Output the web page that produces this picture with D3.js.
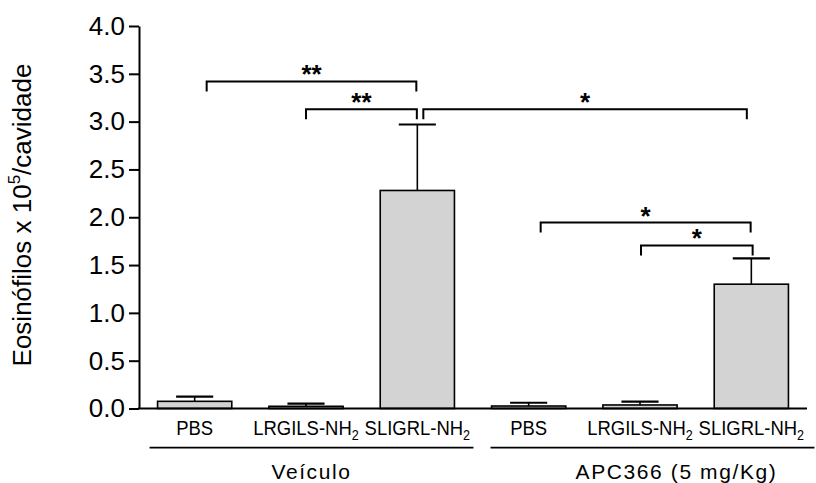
<!DOCTYPE html>
<html>
<head>
<meta charset="utf-8">
<script src="https://cdn.jsdelivr.net/npm/d3@7"></script>
<style>
  html, body { margin: 0; padding: 0; background: #fff; }
  svg { display: block; font-family: "Liberation Sans", Arial, sans-serif; }
</style>
</head>
<body>
<svg id="chart" width="816" height="483"></svg>
<script>
// Categories (treatment within group)
const categories = ["veh_pbs", "veh_lrg", "veh_sli", "apc_pbs", "apc_lrg", "apc_sli"];
const categoryLabels = [
  ["PBS", null],
  ["LRGILS-NH", "2"],
  ["SLIGRL-NH", "2"],
  ["PBS", null],
  ["LRGILS-NH", "2"],
  ["SLIGRL-NH", "2"]
];
// Eosinophil counts (x 10^5 / cavity): mean and mean + SEM
const means = [0.075, 0.023, 2.28, 0.026, 0.037, 1.30];
const upper = [0.124, 0.050, 2.97, 0.060, 0.072, 1.57];

// Groups spanning categories
const groupNames = ["Veículo", "APC366 (5 mg/Kg)"];
const groupMembers = [["veh_pbs", "veh_sli"], ["apc_pbs", "apc_sli"]];

// Y axis ticks
const yTicks = [0, 0.5, 1.0, 1.5, 2.0, 2.5, 3.0, 3.5, 4.0];

// Significance comparisons: pair of categories, bracket level (y units), label
const compFrom = ["veh_pbs", "veh_lrg", "veh_sli", "apc_pbs", "apc_lrg"];
const compTo   = ["veh_sli", "veh_sli", "apc_sli", "apc_sli", "apc_sli"];
const compLevel = [3.42, 3.13, 3.13, 1.945, 1.705];
const compLabel = ["**", "**", "*", "*", "*"];

const svg = d3.select("#chart");
const plotLeft = 139, plotRight = 807, plotTop = 26, plotBottom = 408.5;

const x = d3.scaleBand().domain(categories).range([plotLeft, plotRight])
  .paddingInner(1 / 3).paddingOuter(1 / 6);
const y = d3.scaleLinear().domain([0, 4]).range([plotBottom, plotTop]);
const cx = c => x(c) + x.bandwidth() / 2;

// Bars with upper error bars
const bars = svg.append("g");
categories.forEach((c, i) => {
  const xm = cx(c);
  const capW = x.bandwidth() / 2;
  bars.append("line")
    .attr("x1", xm).attr("x2", xm)
    .attr("y1", y(means[i])).attr("y2", y(upper[i]))
    .attr("stroke", "#000").attr("stroke-width", 1.6);
  bars.append("line")
    .attr("x1", xm - capW / 2).attr("x2", xm + capW / 2)
    .attr("y1", y(upper[i])).attr("y2", y(upper[i]))
    .attr("stroke", "#000").attr("stroke-width", 2.2);
  bars.append("rect")
    .attr("x", x(c)).attr("width", x.bandwidth())
    .attr("y", y(means[i])).attr("height", y(0) - y(means[i]))
    .attr("fill", "#d3d3d3").attr("stroke", "#000").attr("stroke-width", 1.6);
});

// Y axis
const yAxis = d3.axisLeft(y).tickValues(yTicks).tickFormat(d3.format(".1f"))
  .tickSize(10).tickSizeOuter(0).tickPadding(4);
const gy = svg.append("g").attr("transform", `translate(${plotLeft},0)`).call(yAxis);
gy.select(".domain").attr("stroke", "#000").attr("stroke-width", 2);
gy.selectAll(".tick line").attr("stroke", "#000").attr("stroke-width", 2);
gy.selectAll(".tick text").attr("font-size", 26).attr("fill", "#000")
  .attr("font-family", "Liberation Sans, Arial, sans-serif");

// X axis baseline
svg.append("line")
  .attr("x1", plotLeft - 1).attr("x2", plotRight).attr("y1", plotBottom).attr("y2", plotBottom)
  .attr("stroke", "#000").attr("stroke-width", 2);

// Category labels (slightly condensed type)
categories.forEach((c, i) => {
  const [main, sub] = categoryLabels[i];
  const t = svg.append("text")
    .attr("transform", `translate(${cx(c)},434.5) scale(0.9,1)`)
    .attr("text-anchor", "middle").attr("font-size", 20.5).attr("fill", "#000");
  t.append("tspan").text(main);
  if (sub) t.append("tspan").attr("font-size", 14).attr("dy", 5).text(sub);
});

// Group lines and labels
const groupPadL = [8, 1], groupPadR = [19, 26], groupTextShift = [0, 24];
groupNames.forEach((g, i) => {
  const [a, b] = groupMembers[i];
  const gx1 = x(a) - groupPadL[i];
  const gx2 = x(b) + x.bandwidth() + groupPadR[i];
  svg.append("line").attr("x1", gx1).attr("x2", gx2)
    .attr("y1", 447.7).attr("y2", 447.7)
    .attr("stroke", "#000").attr("stroke-width", 1.8);
  svg.append("text").attr("x", (gx1 + gx2) / 2 + groupTextShift[i]).attr("y", 478.5)
    .attr("text-anchor", "middle").attr("font-size", 21)
    .attr("letter-spacing", 1.6).attr("fill", "#000")
    .text(g);
});

// Small per-end offsets so adjacent brackets do not touch
const nudgeFrom = [12, 0, 6, 12, 1];
const nudgeTo = [-1, -0.5, -4.5, -0.7, 1.3];
const legH = 10;
compFrom.forEach((a, i) => {
  const xa = cx(a) + nudgeFrom[i];
  const xb = cx(compTo[i]) + nudgeTo[i];
  const yl = y(compLevel[i]);
  svg.append("path")
    .attr("d", `M${xa},${yl + legH}V${yl}H${xb}V${yl + legH}`)
    .attr("fill", "none").attr("stroke", "#000").attr("stroke-width", 2);
  svg.append("text")
    .attr("x", (xa + xb) / 2).attr("y", yl + 2)
    .attr("text-anchor", "middle").attr("font-size", 26).attr("font-weight", "bold")
    .attr("fill", "#000").text(compLabel[i]);
});

// Y axis title
const yt = svg.append("text")
  .attr("transform", `translate(31,${(58 + 372) / 2}) rotate(-90)`)
  .attr("text-anchor", "middle").attr("font-size", 26).attr("fill", "#000");
yt.append("tspan").text("Eosinófilos x 10");
yt.append("tspan").attr("font-size", 17).attr("dy", -11).text("5");
yt.append("tspan").attr("dy", 11).text("/cavidade");
</script>
</body>
</html>
